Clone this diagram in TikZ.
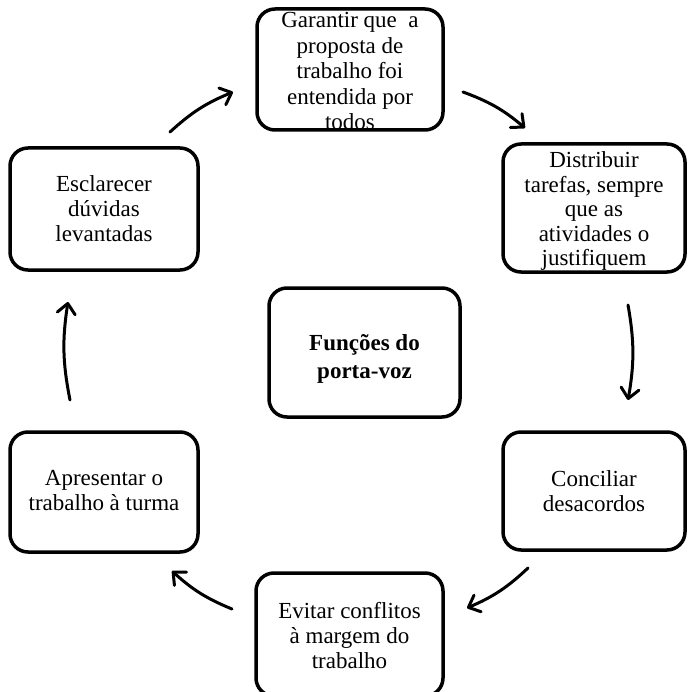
\documentclass[tikz,border=0pt]{standalone}
\usepackage{fontspec}
\setmainfont{Liberation Serif}
\usetikzlibrary{arrows.meta}
\begin{document}
\begin{tikzpicture}[x=1pt,y=-1pt,
  box/.style={draw, line width=3.5pt, rounded corners=18pt, inner sep=0pt},
  txt/.style={align=center, inner sep=0pt, font=\fontsize{23}{25}\selectfont},
  conn/.style={line width=3pt, line cap=round, line join=round,
    -{Straight Barb[length=10pt,width=18pt,line cap=round,line join=round]}, bend left=10}]
\useasboundingbox (0,0) rectangle (687,692);
\node[box, minimum width=186pt, minimum height=121pt] (g) at (350,69.5) {};
\node[txt, font=\fontsize{23}{25.5}\selectfont] (gt) at ([yshift=-2pt]g.center)
  {Garantir que~ a\\proposta de\\trabalho foi\\entendida por\\todos};
\node[box, minimum width=182pt, minimum height=128pt] (d) at (594,208) {};
\node[txt, font=\fontsize{23}{24.5}\selectfont] (dt) at ([yshift=-3pt]d.center)
  {Distribuir\\tarefas, sempre\\que as\\atividades o\\justifiquem};
\node[box, minimum width=182pt, minimum height=118pt] (c) at (594,491) {};
\node[txt] (ct) at (c.center) {Conciliar\\desacordos};
\node[box, minimum width=187pt, minimum height=123pt] (e) at (349.5,634.5) {};
\node[txt] (et) at ([yshift=-1pt]e.center) {Evitar conflitos\\à margem do\\trabalho};
\node[box, minimum width=188pt, minimum height=120pt] (a) at (104,492) {};
\node[txt] (at) at ([yshift=1pt]a.center) {Apresentar o\\trabalho à turma};
\node[box, minimum width=188pt, minimum height=122pt] (el) at (104,209) {};
\node[txt] (elt) at (el.center) {Esclarecer\\dúvidas\\levantadas};
\node[box, minimum width=191pt, minimum height=129pt] (f) at (364.5,352.5) {};
\node[txt, font=\fontsize{23}{28}\selectfont\bfseries] (ft) at ([yshift=-6pt]f.center)
  {Funções do\\porta-voz};
\coordinate (s1) at (170,132); \coordinate (t1) at (233,92);
\coordinate (s2) at (463,92);  \coordinate (t2) at (525,128);
\coordinate (s3) at (628,305); \coordinate (t3) at (628,400);
\coordinate (s4) at (528,568); \coordinate (t4) at (467,608);
\coordinate (s5) at (232,609); \coordinate (t5) at (172,571);
\coordinate (s6) at (70,400);  \coordinate (t6) at (68,302);
\draw[conn] (s1) to (t1);
\draw[conn] (s2) to (t2);
\draw[conn] (s3) to (t3);
\draw[conn] (s4) to (t4);
\draw[conn] (s5) to (t5);
\draw[conn] (s6) to (t6);
\end{tikzpicture}
\end{document}
